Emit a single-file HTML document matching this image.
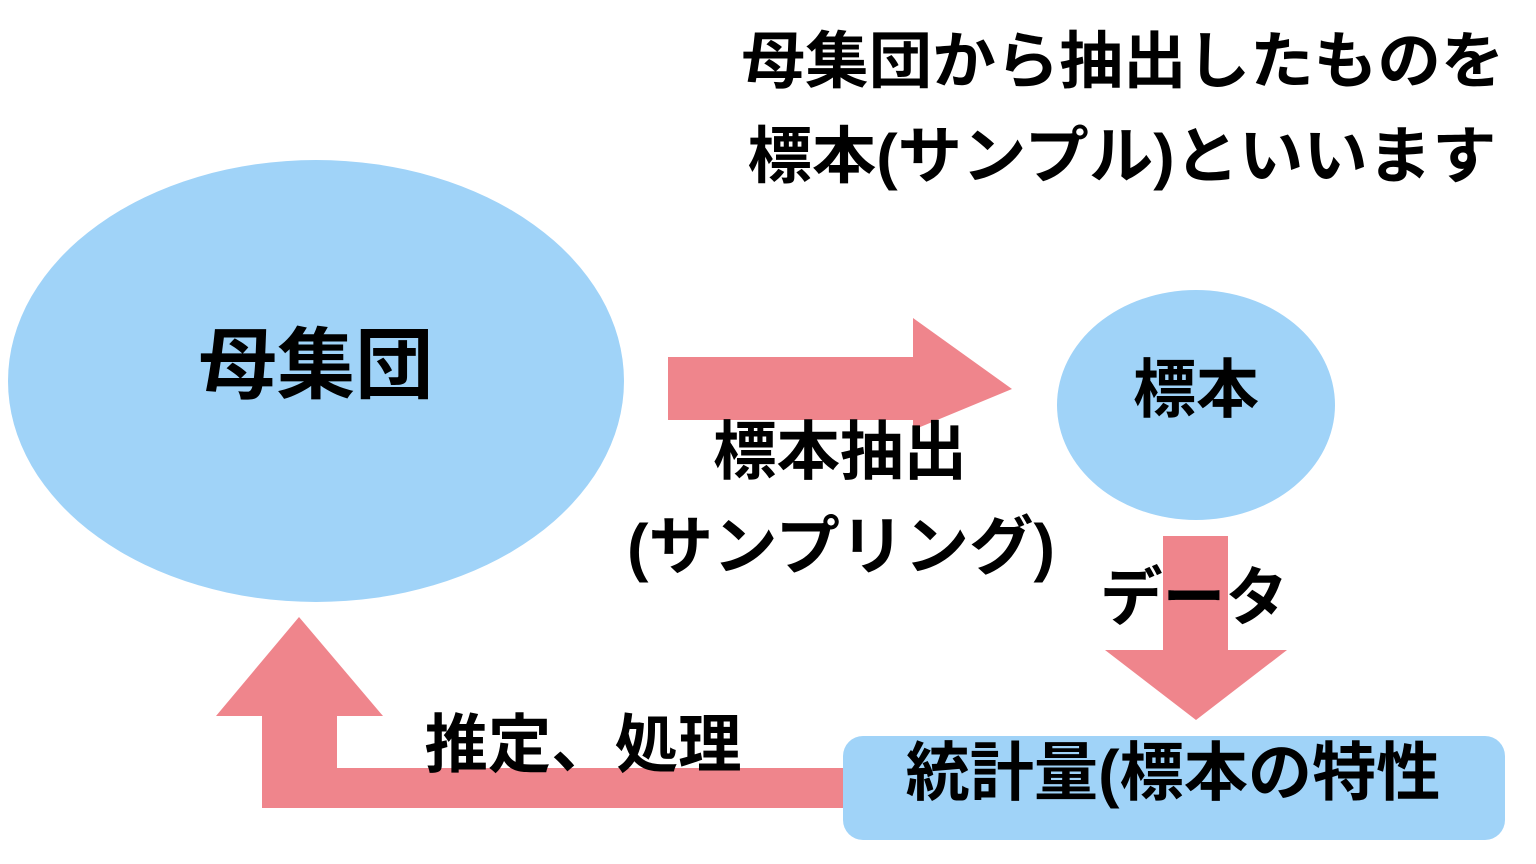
<!DOCTYPE html>
<html><head><meta charset="utf-8"><style>
html,body{margin:0;padding:0;background:#fff;}
svg{display:block}
text{font-family:"Liberation Sans","Noto Sans CJK JP",sans-serif;font-weight:bold;fill:#000;text-anchor:middle;dominant-baseline:central}
</style></head><body>
<svg width="1536" height="864" viewBox="0 0 1536 864" xmlns="http://www.w3.org/2000/svg">
<rect width="1536" height="864" fill="#fff"/>
<ellipse cx="316" cy="381" rx="308" ry="221" fill="#a0d3f8"/>
<ellipse cx="1196" cy="405" rx="139" ry="115" fill="#a0d3f8"/>
<polygon points="668,357 913,357 913,318 1012,389 913,430 913,420 668,420" fill="#ef858c"/>
<polygon points="1163,536 1228,536 1228,650 1287,650 1196,720 1105,650 1163,650" fill="#ef858c"/>
<polygon points="262,808 262,716 216,716 299,617 383,716 337,716 337,768 860,768 860,808" fill="#ef858c"/>
<rect x="843" y="736" width="662" height="104" rx="20" fill="#a0d3f8"/>
<text x="1123" y="62" font-size="62" textLength="763" lengthAdjust="spacingAndGlyphs">母集団から抽出したものを</text>
<text x="1122" y="157" font-size="62" textLength="749" lengthAdjust="spacingAndGlyphs">標本(サンプル)といいます</text>
<text x="316" y="365" font-size="78" textLength="235" lengthAdjust="spacingAndGlyphs">母集団</text>
<text x="1196" y="390" font-size="64" textLength="126" lengthAdjust="spacingAndGlyphs">標本</text>
<text x="840" y="452" font-size="64" textLength="254" lengthAdjust="spacingAndGlyphs">標本抽出</text>
<text x="841" y="547" font-size="64" textLength="428" lengthAdjust="spacingAndGlyphs">(サンプリング)</text>
<text x="1194" y="598" font-size="64" textLength="188" lengthAdjust="spacingAndGlyphs">データ</text>
<text x="583" y="745" font-size="64" textLength="317" lengthAdjust="spacingAndGlyphs">推定、処理</text>
<text x="1173" y="773" font-size="64" textLength="535" lengthAdjust="spacingAndGlyphs">統計量(標本の特性</text>
</svg>
</body></html>
